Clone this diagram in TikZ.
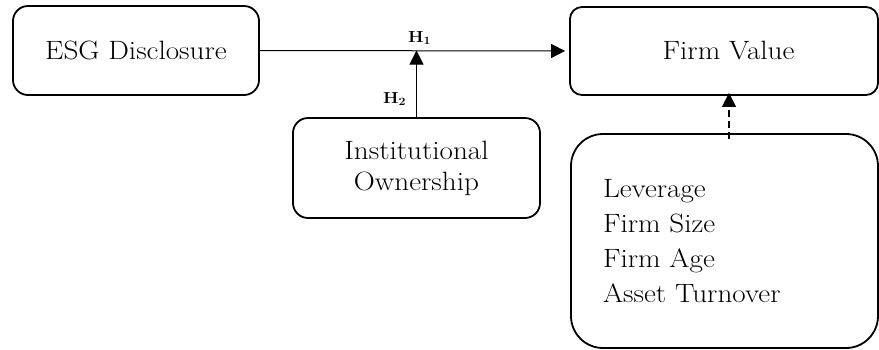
\documentclass[tikz,border=0pt]{standalone}
\usepackage{fontspec}
\setmainfont{Latin Modern Roman}[FakeStretch=1.1]
\usetikzlibrary{arrows.meta,calc}
\tikzset{
  box/.style={draw, line width=1.8pt, inner sep=0pt, rounded corners=15pt,
    font=\fontsize{26.5}{33}\selectfont, align=center},
  hlabel/.style={inner sep=0pt, anchor=base, font=\fontsize{16}{18}\selectfont\bfseries},
  conn/.style={line width=1pt, -{Triangle[length=14pt,width=14pt]}},
}
\begin{document}
\begin{tikzpicture}[x=1pt,y=1pt]
\useasboundingbox (0,0) rectangle (879,-349);
\node[box, minimum width=246, minimum height=89] (esg) at (136,-50.5) {ESG Disclosure};
\node[box, rounded corners=12pt, minimum width=308, minimum height=88] (fv) at (724,-51) {\hspace*{9pt}Firm Value};
\node[box, minimum width=247, minimum height=100] (io) at (416.5,-168) {Institutional\\[-2pt]Ownership};
\node[box, rounded corners=32pt, minimum width=307, minimum height=214,
  text width=243, align=left, font=\fontsize{26.5}{35}\selectfont] (ctrl) at (724.5,-241)
  {Leverage\\Firm Size\\Firm Age\\Asset Turnover};
\coordinate (m) at (io.north |- esg.east);
\draw[conn, shorten >=4pt] (esg.east) -- (fv.west);
\draw[conn] (io.north) -- (m);
\draw[conn, dash pattern=on 7pt off 4pt, line width=1.2pt]
  ($(ctrl.north)+(4.5,-6)$) -- ($(fv.south)+(5,3)$);
\node[hlabel] (h1) at (419.5,-42) {H\textsubscript{1}};
\node[hlabel] (h2) at (394.5,-103) {H\textsubscript{2}};
\end{tikzpicture}
\end{document}
